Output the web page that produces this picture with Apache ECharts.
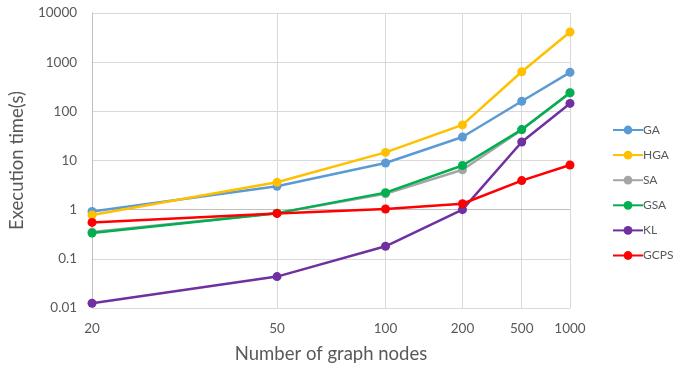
<!DOCTYPE html>
<html>
<head>
<meta charset="utf-8">
<script src="https://cdn.jsdelivr.net/npm/echarts@6/dist/echarts.min.js"></script>
<style>html,body{margin:0;padding:0;background:#fff;}#c{width:676px;height:369px;}</style>
</head>
<body>
<div id="c"></div>
<script>
// Category ticks of the x axis (number of graph nodes)
const nodeCounts = [20, 50, 100, 200, 500, 1000];
// Relative placement of each category tick along the x axis (0..10 axis units)
const tickPlacement = [0, 3.87, 6.14, 7.75, 8.99, 10];
const yTicks = [0.01, 0.1, 1, 10, 100, 1000, 10000];

const seriesNames = ['GA', 'HGA', 'SA', 'GSA', 'KL', 'GCPS'];
const GA   = [0.92, 3.0, 8.9, 30, 160, 620];
const HGA  = [0.78, 3.6, 14.6, 53, 640, 4100];
const SA   = [0.35, 0.85, 2.1, 6.5, 42, 236];
const GSA  = [0.335, 0.85, 2.22, 7.9, 42.5, 240];
const KL   = [0.0125, 0.0435, 0.18, 1.0, 23.8, 145];
const GCPS = [0.55, 0.84, 1.03, 1.32, 3.9, 8.1];
const seriesValues = [GA, HGA, SA, GSA, KL, GCPS];
const colors = ['#5B9BD5', '#FFC000', '#A5A5A5', '#00B050', '#7030A0', '#FF0000'];

const FONT = 'Lato, "Open Sans", sans-serif';
const TXT = '#595959';

const chart = echarts.init(document.getElementById('c'), null, {renderer: 'canvas'});

const series = seriesNames.map((name, i) => {
  const s = {
    name: name,
    type: 'line',
    data: seriesValues[i].map((v, k) => [tickPlacement[k], v]),
    symbol: 'circle',
    symbolSize: 9,
    lineStyle: {width: 2.5, color: colors[i]},
    itemStyle: {color: colors[i]},
    emphasis: {disabled: true},
    z: 3 + i
  };
  if (i === 0) {
    s.markLine = {
      silent: true,
      symbol: 'none',
      label: {show: false},
      lineStyle: {color: '#bfbfbf', width: 1, type: 'solid'},
      data: [{yAxis: 1}],
      z: 1
    };
  }
  return s;
});

chart.setOption({
  animation: false,
  color: colors,
  textStyle: {fontFamily: FONT},
  grid: {left: 86.5, right: 106, top: 13, bottom: 61, containLabel: false},
  legend: {
    orient: 'vertical',
    left: 607,
    top: 119,
    itemWidth: 30,
    itemHeight: 11,
    itemGap: 13.1,
    textStyle: {fontFamily: FONT, fontSize: 12, color: TXT, padding: [0, 0, 0, -5]},
    data: seriesNames
  },
  xAxis: {
    type: 'value',
    min: 0,
    max: 10,
    name: 'Number of graph nodes',
    nameLocation: 'middle',
    nameGap: 37,
    nameTextStyle: {fontFamily: FONT, fontSize: 18.5, color: TXT},
    axisLine: {show: false},
    axisTick: {show: false, customValues: tickPlacement},
    axisLabel: {
      customValues: tickPlacement,
      margin: 14,
      fontFamily: FONT, fontSize: 13.5, color: TXT,
      formatter: v => {
        const idx = tickPlacement.findIndex(p => Math.abs(p - v) < 1e-6);
        return idx >= 0 ? String(nodeCounts[idx]) : '';
      }
    },
    splitLine: {show: true, lineStyle: {color: '#d9d9d9', width: 1}}
  },
  yAxis: {
    type: 'log',
    logBase: 10,
    min: yTicks[0],
    max: yTicks[yTicks.length - 1],
    name: 'Execution time(s)',
    nameLocation: 'middle',
    nameGap: 61,
    nameTextStyle: {fontFamily: FONT, fontSize: 18.5, color: TXT},
    axisLine: {show: true, lineStyle: {color: '#bfbfbf', width: 1}},
    axisTick: {show: false},
    axisLabel: {
      margin: 15,
      fontFamily: FONT, fontSize: 13.5, color: TXT,
      formatter: v => String(+v.toPrecision(6))
    },
    splitLine: {show: true, lineStyle: {color: '#d9d9d9', width: 1}}
  },
  series: series
});
</script>
</body>
</html>
